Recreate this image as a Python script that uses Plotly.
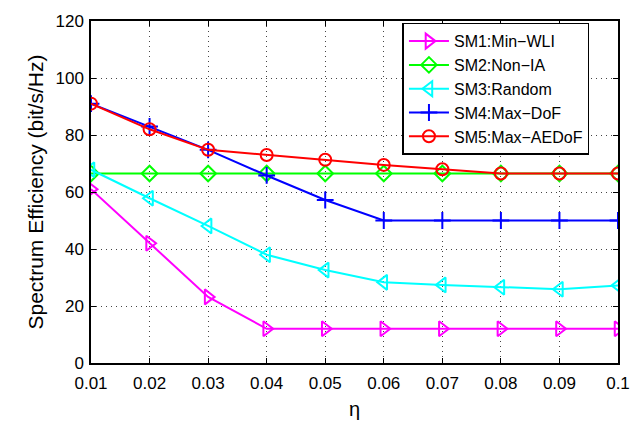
import plotly.graph_objects as go

eta = [0.01, 0.02, 0.03, 0.04, 0.05, 0.06, 0.07, 0.08, 0.09, 0.1]
sm1 = [61, 42, 23.2, 12, 12, 12, 12, 12, 12, 12]
sm2 = [66.5, 66.5, 66.5, 66.5, 66.5, 66.5, 66.5, 66.5, 66.5, 66.5]
sm3 = [67.8, 57.8, 48.1, 38, 32.6, 28.3, 27.4, 26.6, 25.9, 27.2]
sm4 = [91, 83, 74.8, 65.8, 57.2, 50, 50, 50, 50, 50]
sm5 = [91, 82, 74.8, 73, 71.3, 69.5, 68, 66.5, 66.5, 66.5]

names = ["SM1:Min\u2212WLI", "SM2:Non\u2212IA", "SM3:Random", "SM4:Max\u2212DoF", "SM5:Max\u2212AEDoF"]
series = [sm1, sm2, sm3, sm4, sm5]
colors = ["#ff00ff", "#00ff00", "#00ffff", "#0000ff", "#ff0000"]
symbols = ["triangle-right-open", "diamond-open", "triangle-left-open", "cross-thin-open", "circle-open"]
sizes = [13, 12, 13, 12, 12]

fig = go.Figure()
for n, ys, c, s, sz in zip(names, series, colors, symbols, sizes):
    fig.add_trace(go.Scatter(
        x=eta, y=ys, name=n, mode="lines+markers",
        line=dict(color=c, width=2),
        marker=dict(symbol=s, size=sz, color=c, line=dict(color=c, width=2)),
    ))

FONT = "Liberation Sans, Arial, sans-serif"
axis_common = dict(
    showline=True, linecolor="black", linewidth=1.5, mirror="ticks",
    ticks="inside", ticklen=5, tickcolor="black",
    showgrid=True, gridcolor="#444444", griddash="1px,4px", gridwidth=1,
    zeroline=False,
    tickfont=dict(family=FONT, size=17, color="black"),
)

fig.update_layout(
    width=644, height=429,
    margin=dict(l=91, r=26, t=14, b=65),
    paper_bgcolor="white", plot_bgcolor="white",
    font=dict(family=FONT, color="black"),
    xaxis=dict(range=[0.01, 0.1], tickvals=eta,
               ticktext=["0.01", "0.02", "0.03", "0.04", "0.05", "0.06", "0.07", "0.08", "0.09", "0.1"],
               ticklabelstandoff=4,
               title=dict(text="\u03b7", font=dict(size=20), standoff=10), **axis_common),
    yaxis=dict(range=[0, 120], tickvals=[0, 20, 40, 60, 80, 100, 120],
               ticklabelstandoff=2,
               title=dict(text="Spectrum Efficiency (bit/s/Hz)", font=dict(size=21), standoff=6), **axis_common),
    legend=dict(x=0.591, y=0.995, xanchor="left", yanchor="top",
                bgcolor="white", bordercolor="black", borderwidth=1.5,
                font=dict(size=16, family=FONT),
                tracegroupgap=0, itemwidth=40),
    showlegend=True,
)

fig.write_html("out.html")
